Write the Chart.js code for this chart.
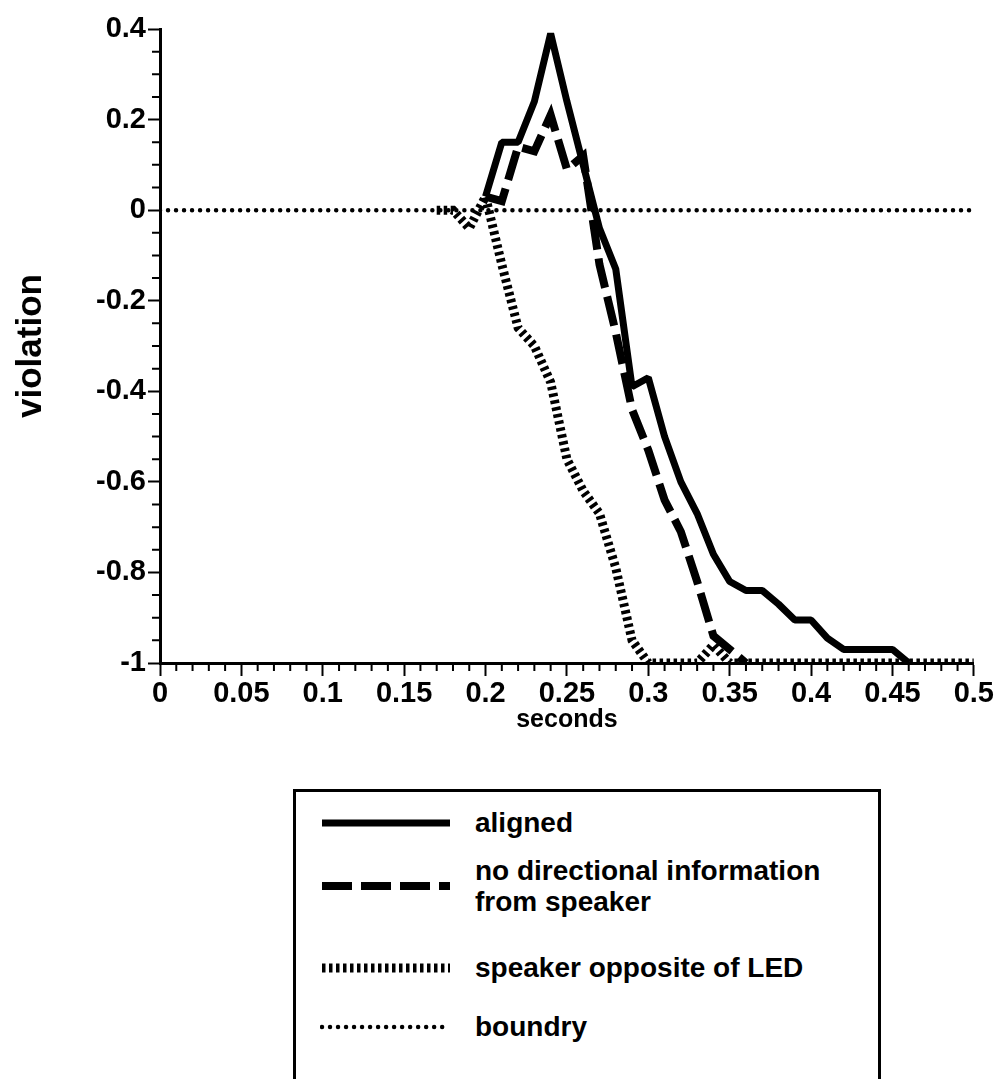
<!DOCTYPE html>
<html>
<head>
<meta charset="utf-8">
<script src="https://cdn.jsdelivr.net/npm/chart.js@4/dist/chart.umd.min.js"></script>
<style>
  html, body { margin: 0; padding: 0; background: #fff; overflow: hidden; }
  body { width: 995px; height: 1079px; position: relative; font-family: "Liberation Sans", Arial, sans-serif; }
  #wrap { position: absolute; left: 0; top: 0; width: 995px; height: 735px; }
  #legend {
    position: absolute; left: 293px; top: 789px; width: 588px; height: 300px;
    border: 3px solid #000; box-sizing: border-box;
  }
  .row { position: absolute; left: 24px; display: flex; align-items: center; }
  .row canvas { width: 132px; height: 20px; }
  .row span { margin-left: 23px; font: bold 28px "Liberation Sans", Arial, sans-serif; line-height: 31px; color: #000; }
</style>
</head>
<body>
<div id="wrap"><canvas id="chart"></canvas></div>
<div id="legend"></div>
<script>
// dane (sekundy co 0.01)
const seconds = [0.17, 0.18, 0.19, 0.20, 0.21, 0.22, 0.23, 0.24, 0.25, 0.26, 0.27, 0.28,
    0.29, 0.30, 0.31, 0.32, 0.33, 0.34, 0.35, 0.36, 0.37, 0.38, 0.39, 0.40, 0.41, 0.42,
    0.43, 0.44, 0.45, 0.46, 0.47, 0.48, 0.49, 0.50];
const aligned = [null, null, null, 0.03, 0.15, 0.15, 0.24, 0.39, 0.24, 0.10, -0.04, -0.13,
    -0.39, -0.37, -0.50, -0.60, -0.67, -0.76, -0.82, -0.84, -0.84, -0.87, -0.905, -0.905,
    -0.945, -0.97, -0.97, -0.97, -0.97, -1.0, null, null, null, null];
const noDirection = [null, null, null, 0.03, 0.02, 0.14, 0.13, 0.21, 0.09, 0.12, -0.12, -0.27,
    -0.44, -0.53, -0.64, -0.71, -0.82, -0.94, -0.97, -1.0, null, null, null, null, null, null,
    null, null, null, null, null, null, null, null];
const speakerOpposite = [0.0, 0.0, -0.04, 0.03, -0.12, -0.26, -0.30, -0.38, -0.55, -0.62, -0.67,
    -0.79, -0.95, -1.0, -1.0, -1.0, -1.0, -0.96, -1.0, -1.0, -1.0, -1.0, -1.0, -1.0, -1.0,
    -1.0, -1.0, -1.0, -1.0, -1.0, -1.0, -1.0, -1.0, -1.0];
const boundaryX = [0, 0.5];
const boundaryY = [0, 0];

const seriesLabels = ["aligned", "no directional information\nfrom speaker", "speaker opposite of LED", "boundry"];
const xTickLabels = ["0", "0.05", "0.1", "0.15", "0.2", "0.25", "0.3", "0.35", "0.4", "0.45", "0.5"];
const yTickLabels = ["-1", "-0.8", "-0.6", "-0.4", "-0.2", "0", "0.2", "0.4"];

const toPoints = (xs, ys) => xs.map((x, i) => ({ x, y: ys[i] }));

const FONT = "'Liberation Sans', Arial, sans-serif";
const tickFont = { family: FONT, size: 29, weight: "bold" };

// drobne znaczniki osi (co 0.01 i co 0.05)
const minorTicks = {
    id: "minorTicks",
    beforeDatasetsDraw(chart) {
        const { ctx, scales: { x, y } } = chart;
        ctx.save();
        ctx.strokeStyle = "#000";
        ctx.lineWidth = 2;
        ctx.beginPath();
        for (let i = 0; i <= 50; i++) {
            if (i % 5 === 0) continue;
            const px = x.getPixelForValue(i / 100);
            ctx.moveTo(px, x.top);
            ctx.lineTo(px, x.top + 8);
        }
        for (let i = -20; i <= 8; i++) {
            if (i % 4 === 0) continue;
            const py = y.getPixelForValue(i * 0.05);
            ctx.moveTo(y.right, py);
            ctx.lineTo(y.right - 8, py);
        }
        ctx.stroke();
        ctx.restore();
    },
};

const chart = new Chart(document.getElementById("chart"), {
    type: "line",
    data: {
        datasets: [
            {
                label: seriesLabels[0],
                data: toPoints(seconds, aligned),
                borderColor: "#000",
                borderWidth: 7,
                borderJoinStyle: "bevel",
            },
            {
                label: seriesLabels[1],
                data: toPoints(seconds, noDirection),
                borderColor: "#000",
                borderWidth: 8,
                borderDash: [30, 9],
            },
            {
                label: seriesLabels[2],
                data: toPoints(seconds, speakerOpposite),
                borderColor: "#000",
                borderWidth: 9,
                borderDash: [3.5, 3.5],
            },
            {
                label: seriesLabels[3],
                data: toPoints(boundaryX, boundaryY),
                borderColor: "#000",
                borderWidth: 4.5,
                borderDash: [0.01, 8],
                borderCapStyle: "round",
            },
        ],
    },
    options: {
        responsive: true,
        maintainAspectRatio: false,
        animation: false,
        events: [],
        layout: { padding: { left: 0, right: 20, top: 29, bottom: 0 } },
        elements: { point: { radius: 0 }, line: { tension: 0, fill: false } },
        plugins: { legend: { display: false }, tooltip: { enabled: false } },
        scales: {
            x: {
                type: "linear",
                min: 0,
                max: 0.5,
                afterFit: (s) => { s.height = 72; },
                border: { display: true, color: "#000", width: 3 },
                grid: { drawOnChartArea: false, drawTicks: true, tickLength: 13, tickWidth: 2, tickColor: "#000" },
                ticks: {
                    stepSize: 0.05,
                    autoSkip: false,
                    maxRotation: 0,
                    color: "#000",
                    font: tickFont,
                    padding: 1,
                    callback: (v, i) => xTickLabels[i],
                },
                title: { display: true, text: "seconds", color: "#000", font: { family: FONT, size: 25, weight: "bold" }, padding: 0 },
            },
            y: {
                min: -1,
                max: 0.4,
                afterFit: (s) => { s.width = 160; },
                border: { display: true, color: "#000", width: 3 },
                grid: { drawOnChartArea: false, drawTicks: true, tickLength: 12, tickWidth: 2, tickColor: "#000" },
                ticks: {
                    stepSize: 0.2,
                    color: "#000",
                    font: tickFont,
                    padding: 2,
                    callback: (v, i) => yTickLabels[i],
                },
                title: { display: true, text: "violation", color: "#000", font: { family: FONT, size: 35, weight: "bold" }, padding: { top: 10, bottom: 0 } },
            },
        },
    },
    plugins: [minorTicks],
});

// legenda w HTML, próbki linii rysowane stylem serii
const legendRowTops = [15, 63, 160, 219];
const legendEl = document.getElementById("legend");
chart.data.datasets.forEach((ds, i) => {
    const row = document.createElement("div");
    row.className = "row";
    row.style.top = legendRowTops[i] + "px";
    const c = document.createElement("canvas");
    c.width = 132;
    c.height = 20;
    const g = c.getContext("2d");
    g.strokeStyle = ds.borderColor;
    g.lineWidth = ds.borderWidth;
    g.lineCap = ds.borderCapStyle || "butt";
    g.setLineDash(ds.borderDash || []);
    g.beginPath();
    g.moveTo(2, 10);
    g.lineTo(130, 10);
    g.stroke();
    const span = document.createElement("span");
    span.innerHTML = ds.label.replace("\n", "<br>");
    row.appendChild(c);
    row.appendChild(span);
    legendEl.appendChild(row);
});
</script>
</body>
</html>
